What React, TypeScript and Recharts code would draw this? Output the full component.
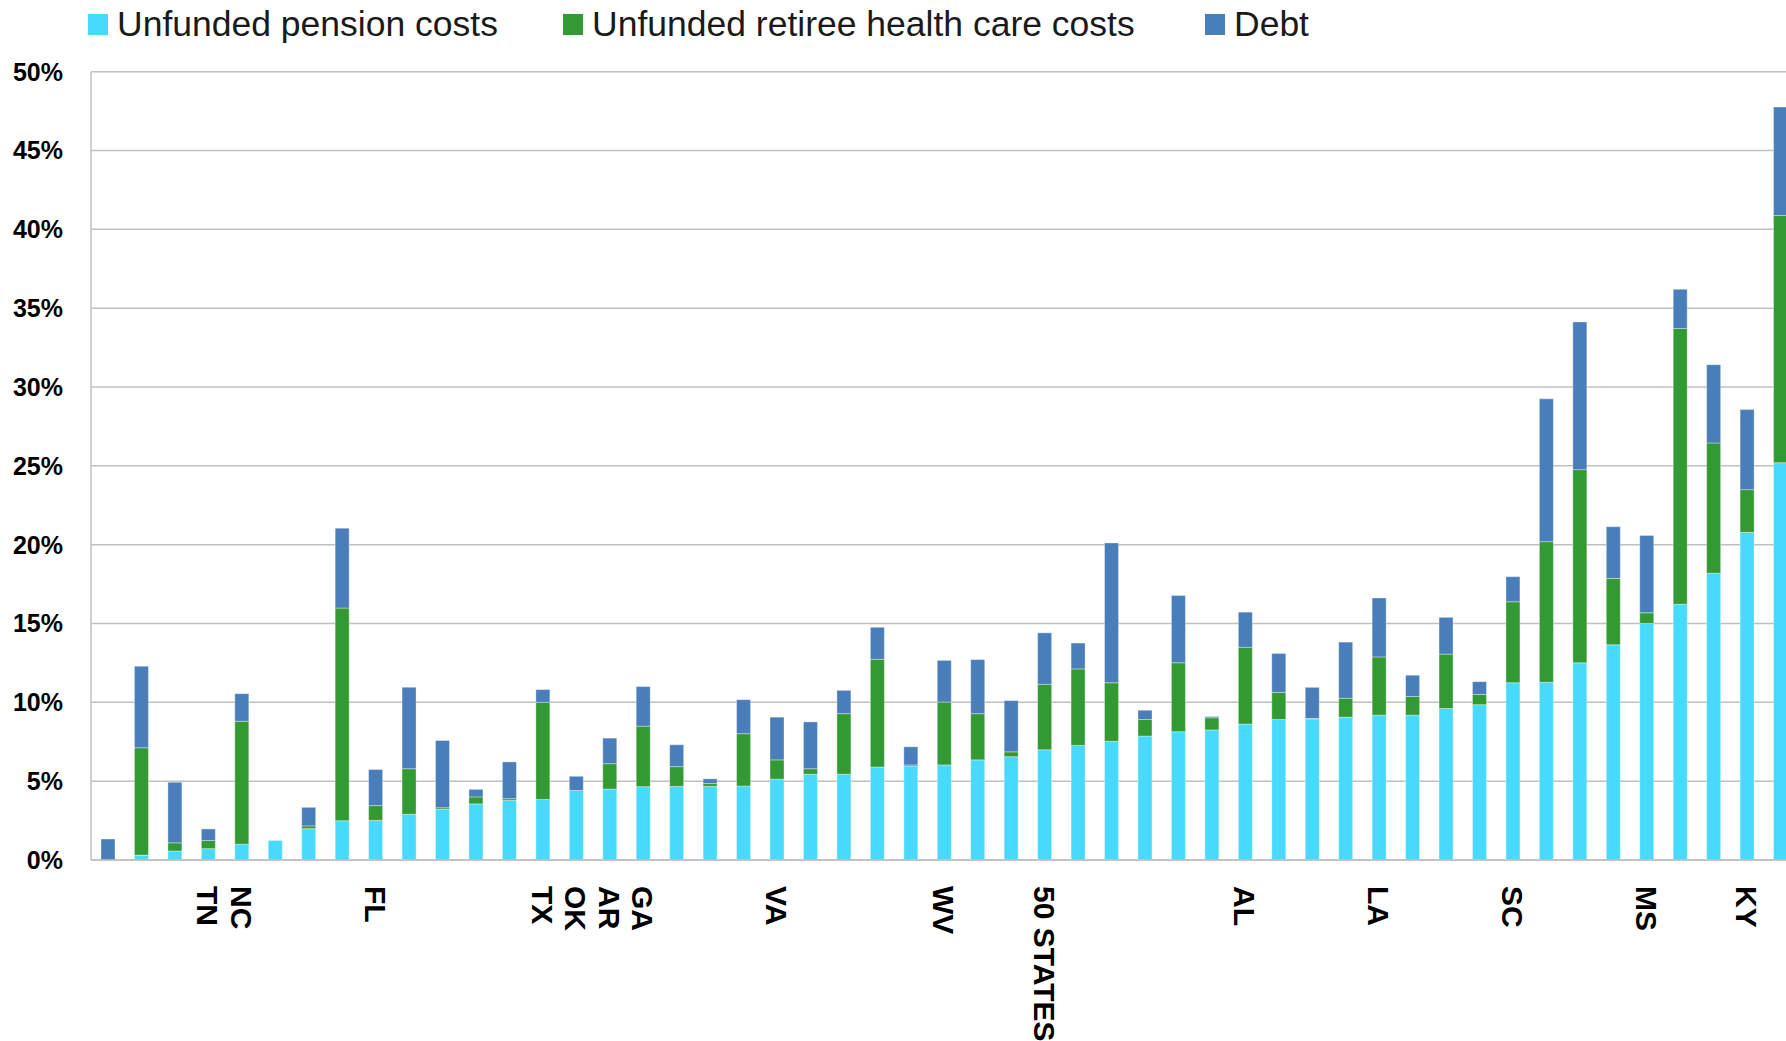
import React from 'react';
import { BarChart, Bar, XAxis, YAxis, CartesianGrid, Legend } from 'recharts';

const stateLabels: string[] = [
  '', '', '', 'TN', 'NC', '', '', '', 'FL', '',
  '', '', '', 'TX', 'OK', 'AR', 'GA', '', '', '',
  'VA', '', '', '', '', 'WV', '', '', '50 STATES', '',
  '', '', '', '', 'AL', '', '', '', 'LA', '',
  '', '', 'SC', '', '', '', 'MS', '', '', 'KY',
  '',
];

const pensionCosts: number[] = [
  0, 0.31, 0.57, 0.72, 1.0, 1.24, 1.99, 2.49, 2.51, 2.9,
  3.23, 3.56, 3.78, 3.84, 4.41, 4.5, 4.65, 4.67, 4.67, 4.69,
  5.13, 5.44, 5.44, 5.9, 5.96, 6.03, 6.35, 6.55, 6.99, 7.27,
  7.53, 7.86, 8.14, 8.25, 8.62, 8.91, 8.95, 9.06, 9.19, 9.19,
  9.61, 9.85, 11.24, 11.27, 12.51, 13.65, 15.0, 16.22, 18.19, 20.78,
  25.2,
];

const healthCareCosts: number[] = [
  0, 6.81, 0.52, 0.52, 7.8, 0, 0.17, 13.49, 0.94, 2.89,
  0.09, 0.44, 0.11, 6.16, 0, 1.61, 3.84, 1.25, 0.18, 3.32,
  1.22, 0.35, 3.84, 6.83, 0.07, 3.99, 2.93, 0.31, 4.15, 4.85,
  3.71, 1.05, 4.37, 0.77, 4.87, 1.72, 0.03, 1.2, 3.69, 1.18,
  3.45, 0.65, 5.14, 8.92, 12.25, 4.21, 0.68, 17.49, 8.26, 2.71,
  15.68,
];

const debtCosts: number[] = [
  1.33, 5.17, 3.84, 0.73, 1.75, 0, 1.18, 5.07, 2.29, 5.17,
  4.26, 0.48, 2.33, 0.81, 0.9, 1.62, 2.51, 1.39, 0.3, 2.16,
  2.71, 2.97, 1.48, 2.03, 1.15, 2.64, 3.43, 3.25, 3.27, 1.64,
  8.87, 0.59, 4.26, 0.08, 2.23, 2.47, 1.97, 3.56, 3.74, 1.35,
  2.33, 0.81, 1.59, 9.06, 9.37, 3.28, 4.91, 2.49, 4.97, 5.08,
  6.88,
];

const yTicks: number[] = [0, 5, 10, 15, 20, 25, 30, 35, 40, 45, 50];

const seriesNames = ['Unfunded pension costs', 'Unfunded retiree health care costs', 'Debt'];
const seriesKeys = ['pension', 'health', 'debt'];
const seriesColors = ['#48DAFD', '#339933', '#4A7EBB'];

const data = stateLabels.map((label, i) => ({
  idx: i,
  label,
  pension: pensionCosts[i],
  health: healthCareCosts[i],
  debt: debtCosts[i],
}));

const FONT = '"Liberation Sans", Arial, sans-serif';

const legendLefts = [88, 563, 1205];

const LegendBox = () => (
  <div style={{ position: 'relative', width: 1786, height: 50 }}>
    {seriesNames.map((name, i) => (
      <div
        key={name}
        style={{
          position: 'absolute',
          left: legendLefts[i],
          top: 5,
          display: 'flex',
          alignItems: 'center',
          height: 38,
        }}
      >
        <div style={{ width: 20, height: 21, background: seriesColors[i], marginRight: 9 }} />
        <span
          style={{
            fontFamily: FONT,
            fontSize: 35.5,
            lineHeight: '38px',
            color: '#1a1a1a',
            whiteSpace: 'nowrap',
          }}
        >
          {name}
        </span>
      </div>
    ))}
  </div>
);

const XTick = (props: any) => {
  const { x, y, payload } = props;
  const label = stateLabels[payload.value];
  if (!label) return <g />;
  const ty = y + 26;
  return (
    <text
      x={x}
      y={ty}
      transform={`rotate(90, ${x}, ${ty})`}
      textAnchor="start"
      dy="0.36em"
      fontFamily={FONT}
      fontWeight="bold"
      fontSize={30}
      fill="#000"
    >
      {label}
    </text>
  );
};

export default function App() {
  return (
    <div
      style={{
        position: 'absolute',
        left: 0,
        top: 0,
        width: 1786,
        height: 1041,
        overflow: 'hidden',
        background: '#fff',
      }}
    >
      <BarChart
        width={1800}
        height={1100}
        data={data}
        margin={{ top: 71.7, right: 3, left: 0, bottom: 0 }}
        barSize={14}
      >
        <CartesianGrid vertical={false} stroke="#c0c0c0" strokeWidth={1.5} />
        <XAxis
          dataKey="idx"
          type="category"
          interval={0}
          height={240}
          tickLine={false}
          tickSize={0}
          tickMargin={0}
          axisLine={{ stroke: '#bfbfbf', strokeWidth: 1.5 }}
          tick={<XTick />}
        />
        <YAxis
          width={91}
          domain={[0, 50]}
          ticks={yTicks}
          interval={0}
          tickLine={false}
          tickSize={0}
          tickMargin={28}
          axisLine={{ stroke: '#bfbfbf', strokeWidth: 1.5 }}
          tickFormatter={(v: number) => `${v}%`}
          tick={{ fontFamily: FONT, fontWeight: 'bold', fontSize: 25, fill: '#000' }}
        />
        <Legend
          layout="horizontal"
          verticalAlign="middle"
          align="center"
          wrapperStyle={{ top: 0, left: 0, width: 1786, height: 50 }}
          content={() => <LegendBox />}
        />
        {seriesKeys.map((k, i) => (
          <Bar
            key={k}
            dataKey={k}
            name={seriesNames[i]}
            stackId="a"
            fill={seriesColors[i]}
            stroke="#ffffff"
            strokeOpacity={0.35}
            strokeWidth={1}
            isAnimationActive={false}
          />
        ))}
      </BarChart>
    </div>
  );
}
